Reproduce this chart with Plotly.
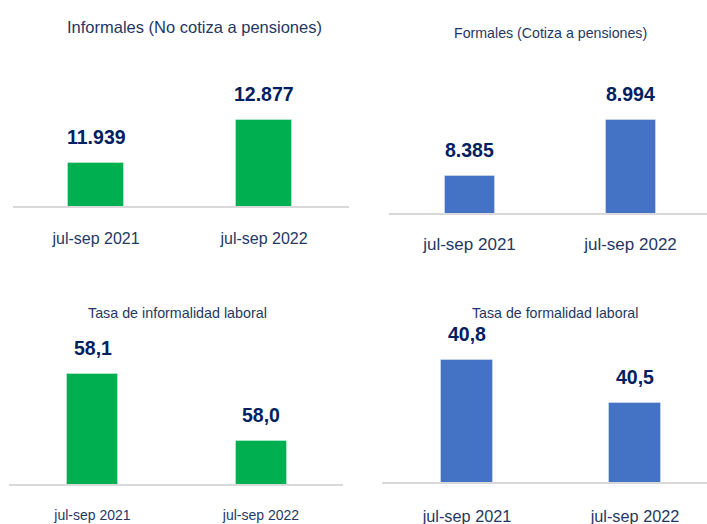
import plotly.graph_objects as go

W, H = 707, 524

categories = ["jul-sep 2021", "jul-sep 2022"]
informales = [11939, 12877]
formales = [8385, 8994]
tasa_informalidad = [58.1, 58.0]
tasa_formalidad = [40.8, 40.5]

labels_informales = ["11.939", "12.877"]
labels_formales = ["8.385", "8.994"]
labels_tasa_inf = ["58,1", "58,0"]
labels_tasa_for = ["40,8", "40,5"]

titles = ["Informales (No cotiza a pensiones)", "Formales (Cotiza a pensiones)",
          "Tasa de informalidad laboral", "Tasa de formalidad laboral"]

GREEN = "#00B050"
BLUE = "#4472C4"
NAVY = "#002060"
TITLE_C = "#1F3864"
FONT = "Liberation Sans Narrow, Arial Narrow, Liberation Sans, Arial, sans-serif"

# panel geometry (px): x-domain, first center, spacing, bar width, axis y, top y, y-range
panels = [
    dict(vals=informales, labs=labels_informales, color=GREEN, title=titles[0],
         dx=(13, 349), c0=96, s=168, bw=56, ybot=206, ytop=60, r=(11001, 14186),
         tx=195, ty=27, tsize=16.5, ticksize=16, ticklen=17),
    dict(vals=formales, labs=labels_formales, color=BLUE, title=titles[1],
         dx=(389, 707), c0=469.5, s=161, bw=50, ybot=213, ytop=60, r=(7982, 9647),
         tx=550, ty=33, tsize=14.2, ticksize=17, ticklen=15),
    dict(vals=tasa_informalidad, labs=labels_tasa_inf, color=GREEN, title=titles[2],
         dx=(9, 343), c0=92.5, s=168.5, bw=51, ybot=484, ytop=320, r=(57.936, 58.18),
         tx=178, ty=313, tsize=14.3, ticksize=14, ticklen=17),
    dict(vals=tasa_formalidad, labs=labels_tasa_for, color=BLUE, title=titles[3],
         dx=(382, 707), c0=467, s=168, bw=52, ybot=482, ytop=320, r=(39.95, 41.08),
         tx=555, ty=313, tsize=14.2, ticksize=16.3, ticklen=18),
]

fig = go.Figure()
annotations = []
for i, p in enumerate(panels, start=1):
    xa = "x" if i == 1 else f"x{i}"
    ya = "y" if i == 1 else f"y{i}"
    fig.add_trace(go.Bar(
        x=[0, 1], y=p["vals"], xaxis=xa, yaxis=ya,
        marker=dict(color=p["color"], line=dict(color="rgba(255,255,255,0.35)", width=1)),
        width=p["bw"] / p["s"], showlegend=False, hoverinfo="skip",
    ))
    d0, d1 = p["dx"]
    xr = [(d0 - p["c0"]) / p["s"], (d1 - p["c0"]) / p["s"]]
    xkey = "xaxis" if i == 1 else f"xaxis{i}"
    ykey = "yaxis" if i == 1 else f"yaxis{i}"
    fig.update_layout(**{
        xkey: dict(domain=[d0 / W, d1 / W], range=xr, anchor=ya,
                   tickmode="array", tickvals=[0, 1], ticktext=categories,
                   showline=True, linecolor="#D9D9D9", linewidth=2,
                   ticks="outside", ticklen=p["ticklen"], tickcolor="rgba(0,0,0,0)",
                   tickfont=dict(family=FONT, size=p["ticksize"], color=TITLE_C),
                   showgrid=False, zeroline=False, fixedrange=True),
        ykey: dict(domain=[1 - p["ybot"] / H, 1 - p["ytop"] / H], range=list(p["r"]),
                   anchor=xa, visible=False, showgrid=False, zeroline=False,
                   fixedrange=True),
    })
    for j, (v, lab) in enumerate(zip(p["vals"], p["labs"])):
        annotations.append(dict(
            x=j, y=v, xref=xa, yref=ya, text=f"<b>{lab}</b>", showarrow=False,
            yanchor="middle", yshift=26,
            font=dict(family=FONT, size=19.5, color=NAVY),
        ))
    annotations.append(dict(
        x=p["tx"] / W, y=1 - p["ty"] / H, xref="paper", yref="paper",
        text=p["title"], showarrow=False, xanchor="center", yanchor="middle",
        font=dict(family=FONT, size=p["tsize"], color=TITLE_C),
    ))

fig.update_layout(
    width=W, height=H, margin=dict(l=0, r=0, t=0, b=0),
    paper_bgcolor="white", plot_bgcolor="white",
    annotations=annotations, bargap=0,
)

fig.write_html("out.html", config={"displayModeBar": False},
               post_script="document.body.style.margin='0px';")
